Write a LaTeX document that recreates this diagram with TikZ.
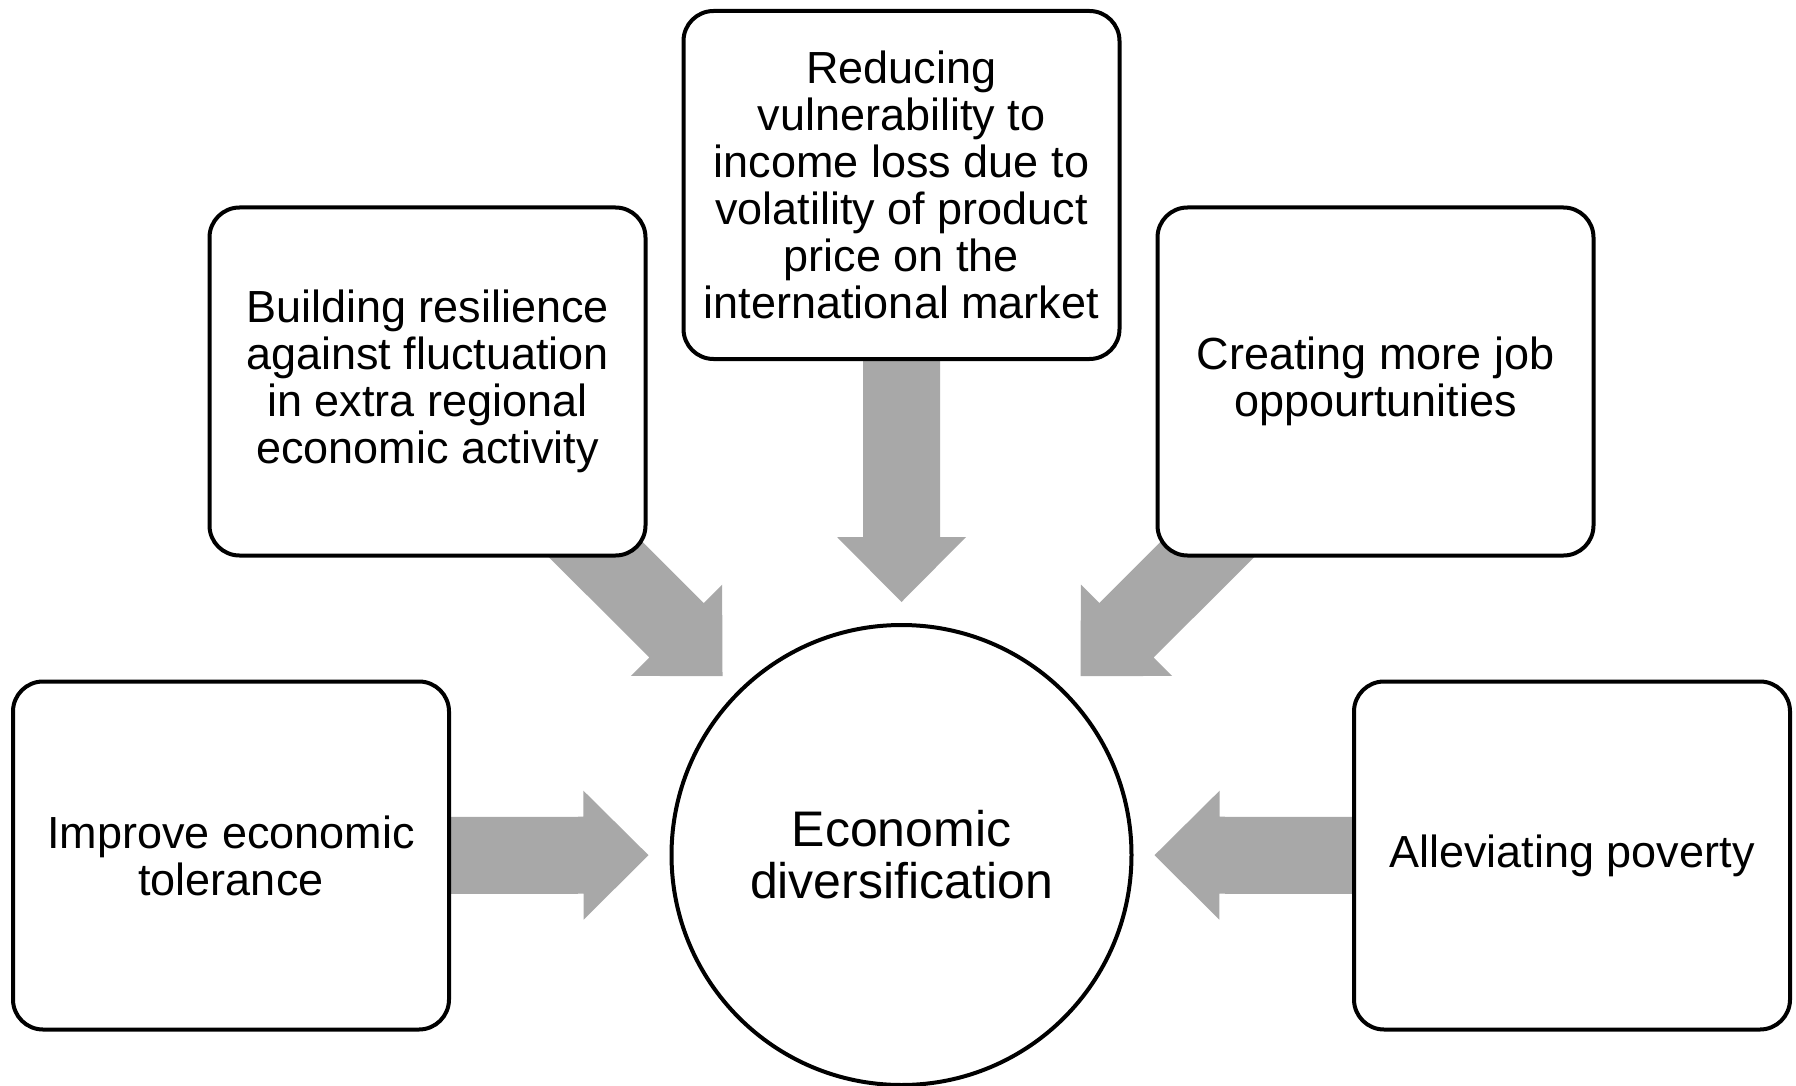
\documentclass[tikz,border=0pt]{standalone}
\usepackage{fontspec}
\setmainfont{Liberation Sans}
\usetikzlibrary{calc,backgrounds}
\definecolor{arrowgray}{RGB}{168,168,168}
\newcommand{\blockarrow}[2]{%
  \coordinate (ba-t) at ($(#2.center)!253pt!(#1.center)$);
  \coordinate (ba-b) at ($(#2.center)!318pt!(#1.center)$);
  \fill[arrowgray] ($(#1.center)!38.5pt!90:(ba-t)$) -- ($(ba-b)!38.5pt!90:(ba-t)$)
    -- ($(ba-b)!64.5pt!90:(ba-t)$) -- (ba-t) -- ($(ba-b)!64.5pt!-90:(ba-t)$)
    -- ($(ba-b)!38.5pt!-90:(ba-t)$) -- ($(#1.center)!38.5pt!-90:(ba-t)$) -- cycle;
}
\tikzset{
  box/.style={draw, line width=4pt, rounded corners=30pt, fill=white,
    minimum width=436pt, minimum height=348pt, inner sep=0pt, align=center,
    font=\fontsize{45}{47}\selectfont},
  hub/.style={circle, draw, line width=4pt, fill=white, minimum size=460pt,
    inner sep=0pt, align=center, font=\fontsize{50}{52}\selectfont}
}
\begin{document}
\begin{tikzpicture}[x=1pt,y=-1pt]
\useasboundingbox (0,0) rectangle (1796,1086);
\node[hub] (ctr) at (901.5,855) {Economic\\diversification};
\node[box] (top) at (901.5,185) {Reducing\\vulnerability to\\income loss due to\\volatility of product\\price on the\\international market};
\node[box] (ul) at (427.5,381.5) {Building resilience\\against fluctuation\\in extra regional\\economic activity};
\node[box] (ur) at (1375.5,381.5) {Creating more job\\oppourtunities};
\node[box] (ll) at (231,855.5) {Improve economic\\tolerance};
\node[box] (lr) at (1572,855.5) {Alleviating poverty};
\begin{scope}[on background layer]
\fill[white] (0,0) rectangle (1796,1086);
\blockarrow{top}{ctr}
\blockarrow{ul}{ctr}
\blockarrow{ur}{ctr}
\blockarrow{ll}{ctr}
\blockarrow{lr}{ctr}
\end{scope}
\end{tikzpicture}
\end{document}
